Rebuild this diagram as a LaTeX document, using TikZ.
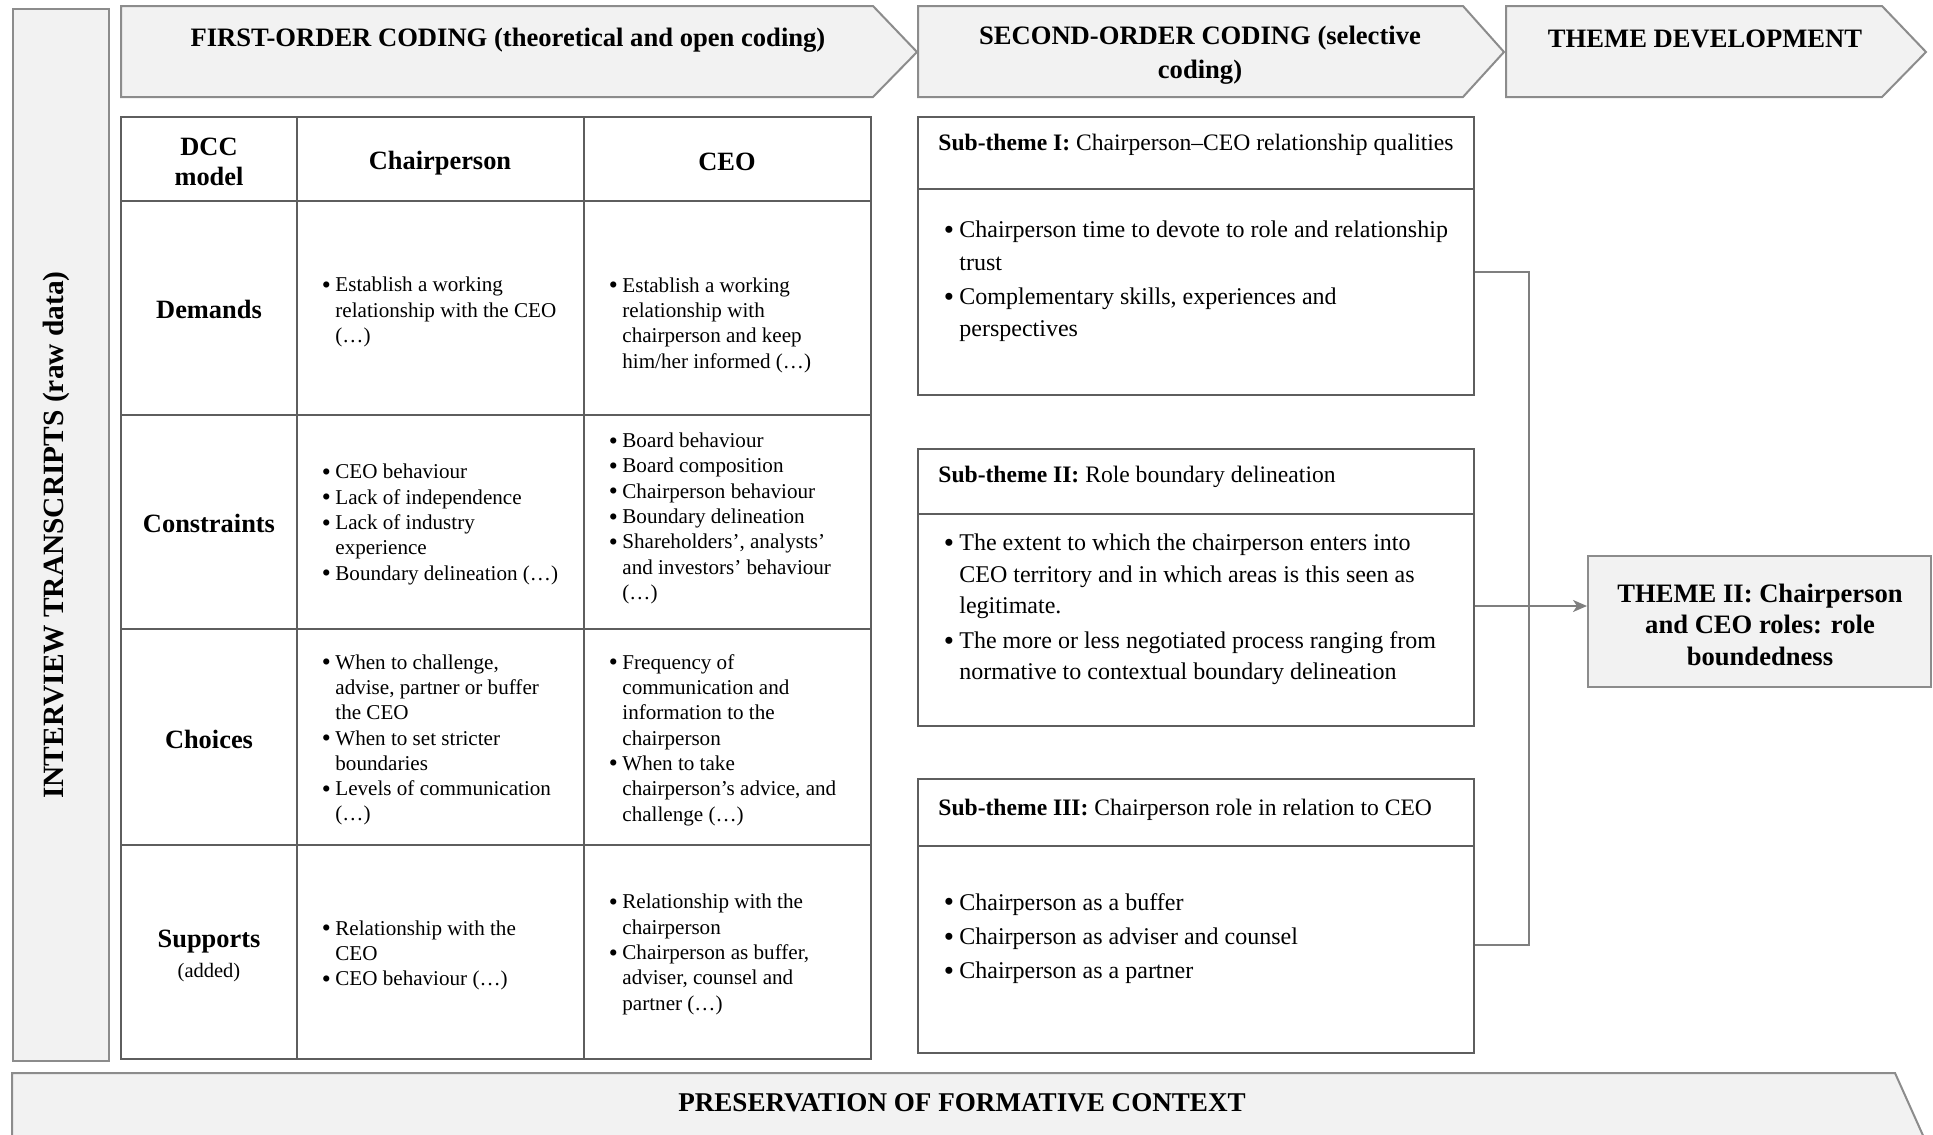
\documentclass[tikz,border=0pt]{standalone}
\usepackage{fontspec}
\setmainfont{Liberation Serif}
\usetikzlibrary{arrows.meta,fit,calc}

\definecolor{panelfill}{HTML}{F2F2F2}
\definecolor{panelline}{HTML}{8C8C8C}
\definecolor{gridline}{HTML}{5E5E5E}
\definecolor{linkline}{HTML}{7F7F7F}

% a slightly enlarged bullet, as used in the lists
\newcommand{\bigdot}{\raisebox{-0.07em}{\scalebox{1.22}{\textbullet}}}
% bullets for the table cells and for the sub-theme lists
\newcommand{\bul}{\makebox[6pt][l]{\hspace*{-0.8pt}\bigdot}}
\newcommand{\ind}{\hspace*{6pt}}
\newcommand{\sbul}{\makebox[7pt][l]{\hspace*{-0.8pt}\bigdot}}
\newcommand{\sind}{\hspace*{7pt}}

\tikzset{
  panel/.style={draw=panelline, fill=panelfill, line width=1pt},
  gridrule/.style={draw=gridline, line width=1.1pt},
  boxrule/.style={draw=gridline, line width=1.1pt},
  head/.style={font=\fontsize{13.3}{17}\selectfont\bfseries, align=center, inner sep=0pt},
  rowlab/.style={font=\fontsize{13.2}{15}\selectfont\bfseries, align=center, inner sep=0pt},
  cell/.style={font=\fontsize{10.55}{12.65}\selectfont, align=left, anchor=west, inner sep=0pt},
  subhead/.style={font=\fontsize{11.8}{16}\selectfont, anchor=west, inner sep=0pt},
  subbody/.style={font=\fontsize{12}{16.2}\selectfont, align=left, anchor=west, inner sep=0pt},
  link/.style={draw=linkline, line width=1pt},
}

\begin{document}
\begin{tikzpicture}[x=0.5pt,y=-0.5pt]
\useasboundingbox (0,0) rectangle (1933,1135);

% ---- left column: raw data ----
\node[panel, fit={(13,9) (109,1061)}, inner sep=0pt] (rawbox) {};
\node[rotate=90, font=\fontsize{14.7}{17}\selectfont\bfseries, inner sep=0pt] (raw) at (56.5,535)
  {INTERVIEW TRANSCRIPTS (raw data)};

% ---- process chevrons along the top ----
\draw[panel] (121,6) -- (873,6) -- (917,52) -- (873,97) -- (121,97) -- cycle;
\draw[panel] (918,6) -- (1463,6) -- (1504,52) -- (1463,97) -- (918,97) -- cycle;
\draw[panel] (1506,6) -- (1882,6) -- (1926,52) -- (1882,97) -- (1506,97) -- cycle;
\node[head] (first) at (508,40) {FIRST-ORDER CODING (theoretical and open coding)};
\node[head] (second) at (1200,55) {SECOND-ORDER CODING (selective\\coding)};
\node[head] (themedev) at (1705,38.5) {THEME DEVELOPMENT};

% ---- bottom chevron ----
\begin{scope}
  \clip (0,0) rectangle (1933,1135);
  \draw[panel] (12,1160) -- (12,1073) -- (1895,1073) -- (1934,1160);
\end{scope}
\node[head, font=\fontsize{13.55}{17}\selectfont\bfseries] (context) at (962,1103) {PRESERVATION OF FORMATIVE CONTEXT};

% ---- DCC table ----
\draw[gridrule] (121,117) rectangle (871,1059);
\foreach \yy in {201,415,629,845} \draw[gridrule] (121,\yy) -- (871,\yy);
\foreach \xx in {297,584} \draw[gridrule] (\xx,117) -- (\xx,1059);

\node[rowlab] (hdcc) at (209,161.5) {DCC\\model};
\node[rowlab] (hchair) at (440,163) {Chairperson};
\node[rowlab] (hceo) at (727,162) {CEO};

\node[rowlab] (rdem) at (209,309.5) {Demands};
\node[rowlab] (rcon) at (209,523.5) {Constraints};
\node[rowlab] (rcho) at (209,739.5) {Choices};
\node[rowlab] (rsup) at (209,956) {Supports\\{\fontsize{10.25}{14}\selectfont\mdseries (added)}};

\node[cell] (c11) at (323,312) {\bul Establish a working\\\ind relationship with the CEO\\\ind (…)};
\node[cell] (c12) at (610,325) {\bul Establish a working\\\ind relationship with\\\ind chairperson and keep\\\ind him/her informed (…)};

\node[cell] (c21) at (323,524.5) {\bul CEO behaviour\\\bul Lack of independence\\\bul Lack of industry\\\ind experience\\\bul Boundary delineation (…)};
\node[cell] (c22) at (610,518.5) {\bul Board behaviour\\\bul Board composition\\\bul Chairperson behaviour\\\bul Boundary delineation\\\bul Shareholders’, analysts’\\\ind and investors’ behaviour\\\ind (…)};

\node[cell] (c31) at (323,740) {\bul When to challenge,\\\ind advise, partner or buffer\\\ind the CEO\\\bul When to set stricter\\\ind boundaries\\\bul Levels of communication\\\ind (…)};
\node[cell] (c32) at (610,740) {\bul Frequency of\\\ind communication and\\\ind information to the\\\ind chairperson\\\bul When to take\\\ind chairperson’s advice, and\\\ind challenge (…)};

\node[cell] (c41) at (323,955.5) {\bul Relationship with the\\\ind CEO\\\bul CEO behaviour (…)};
\node[cell] (c42) at (610,954.5) {\bul Relationship with the\\\ind chairperson\\\bul Chairperson as buffer,\\\ind adviser, counsel and\\\ind partner (…)};

% ---- sub-theme boxes ----
\node[boxrule, fit={(918,117) (1474,395)}, inner sep=0pt] (s1) {};
\draw[boxrule] (918,189) -- (1474,189);
\node[subhead] (s1h) at (938,144.5) {\textbf{Sub-theme I:} Chairperson–CEO relationship qualities};
\node[subbody] (s1b) at (945,281.5) {\sbul Chairperson time to devote to role and relationship\\\sind trust\\[1pt]\sbul Complementary skills, experiences and\\\sind perspectives};

\node[boxrule, fit={(918,449) (1474,726)}, inner sep=0pt] (s2) {};
\draw[boxrule] (918,514) -- (1474,514);
\node[subhead] (s2h) at (938,476.5) {\textbf{Sub-theme II:} Role boundary delineation};
\node[subbody, font=\fontsize{12}{15.8}\selectfont] (s2b) at (945,609.5) {\sbul The extent to which the chairperson enters into\\\sind CEO territory and in which areas is this seen as\\\sind legitimate.\\[1.5pt]\sbul The more or less negotiated process ranging from\\\sind normative to contextual boundary delineation};

\node[boxrule, fit={(918,779) (1474,1053)}, inner sep=0pt] (s3) {};
\draw[boxrule] (918,846) -- (1474,846);
\node[subhead] (s3h) at (938,809.5) {\textbf{Sub-theme III:} Chairperson role in relation to CEO};
\node[subbody] (s3b) at (945,938.5) {\sbul Chairperson as a buffer\\[1pt]\sbul Chairperson as adviser and counsel\\[1pt]\sbul Chairperson as a partner};

% ---- theme ----
\node[panel, fit={(1588,556) (1931,687)}, inner sep=0pt] (theme) {};
\node[head, font=\fontsize{13.3}{15.75}\selectfont\bfseries] (themetxt) at (1760,624.5)
  {THEME II: Chairperson\\and CEO roles: role\\boundedness};

% ---- connectors ----
\coordinate (a1) at ([yshift=-8pt]s1.east);
\coordinate (a2) at ([yshift=-9.25pt]s2.east);
\coordinate (a3) at ([yshift=-14.5pt]s3.east);
\coordinate (jx) at (1529,0);
\draw[link] (a1) -- (a1 -| jx) -- (a3 -| jx) -- (a3);
\draw[link, -{Stealth[length=7pt,width=6pt,inset=2pt]}] (a2) -- (a2 -| theme.west);

\end{tikzpicture}
\end{document}
